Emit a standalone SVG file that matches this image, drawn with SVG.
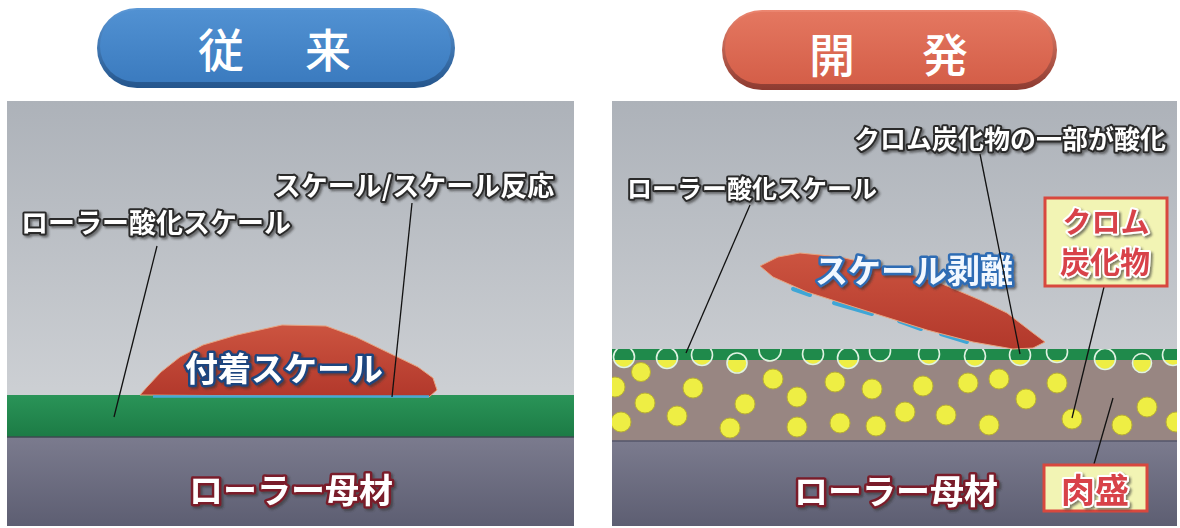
<svg xmlns="http://www.w3.org/2000/svg" width="1180" height="528" viewBox="0 0 1180 528">
  <defs>
    <linearGradient id="bgGrad" x1="0" y1="0" x2="0" y2="1">
      <stop offset="0" stop-color="#adb2b9"/>
      <stop offset="0.7" stop-color="#cdd0d4"/>
      <stop offset="1" stop-color="#d4d6d9"/>
    </linearGradient>
    <linearGradient id="baseGrad" x1="0" y1="0" x2="0" y2="1">
      <stop offset="0" stop-color="#7b7b8e"/>
      <stop offset="1" stop-color="#5d5e72"/>
    </linearGradient>
    <linearGradient id="greenGrad" x1="0" y1="0" x2="0" y2="1">
      <stop offset="0" stop-color="#2a9458"/>
      <stop offset="1" stop-color="#1c7b45"/>
    </linearGradient>
    <linearGradient id="scaleGrad" x1="0" y1="0" x2="0" y2="1">
      <stop offset="0" stop-color="#cc5440"/>
      <stop offset="1" stop-color="#b2382b"/>
    </linearGradient>
    <linearGradient id="blueRim" x1="0" y1="0" x2="0" y2="1">
      <stop offset="0" stop-color="#5c98d6"/>
      <stop offset="1" stop-color="#24558c"/>
    </linearGradient>
    <linearGradient id="blueFace" x1="0" y1="0" x2="0" y2="1">
      <stop offset="0" stop-color="#5191d2"/>
      <stop offset="1" stop-color="#3b7bbf"/>
    </linearGradient>
    <linearGradient id="redRim" x1="0" y1="0" x2="0" y2="1">
      <stop offset="0" stop-color="#ec8670"/>
      <stop offset="1" stop-color="#8c3a30"/>
    </linearGradient>
    <linearGradient id="redFace" x1="0" y1="0" x2="0" y2="1">
      <stop offset="0" stop-color="#e47760"/>
      <stop offset="1" stop-color="#d45e48"/>
    </linearGradient>
    <clipPath id="rightClip">
      <rect x="612" y="349" width="565" height="92"/>
    </clipPath>
    <filter id="sh" x="-10%" y="-30%" width="130%" height="170%">
      <feDropShadow dx="2" dy="2" stdDeviation="1" flood-color="#333" flood-opacity="0.6"/>
    </filter>
  </defs>
  <style>
    .lbl { font-family: "Noto Sans CJK JP", "Noto Sans CJK SC", sans-serif; font-weight: 700; fill: #fff; stroke: #2b2b2b; stroke-width: 4; paint-order: stroke; stroke-linejoin: round; dominant-baseline: central; text-anchor: middle; filter: url(#sh); }
    .base { stroke: #7a1e2a; stroke-width: 5; font-size: 34px; }
    .scale { stroke: #1f447e; stroke-width: 5; font-size: 33px; }
    .peel { fill: #f2f8ff; stroke: #2e6cb4; stroke-width: 5; font-size: 33px; }
    .red { fill: #d8424a; stroke: #fff; stroke-width: 4; }
    .title { font-family: "Noto Sans CJK JP", "Noto Sans CJK SC", sans-serif; font-weight: 500; font-size: 46px; fill: #fff; dominant-baseline: central; text-anchor: middle; }
    .lead { stroke: #111; stroke-width: 1.3; fill: none; }
    .tag { fill: #f2f4b4; stroke: #d8483e; stroke-width: 3; }
    .dot { fill: #eeee44; stroke: #b9b032; stroke-width: 1; }
    .ring { fill: none; stroke: #dff2e2; stroke-width: 1.6; }
    .dash { stroke: #3ea6d6; stroke-width: 4; stroke-linecap: round; }
  </style>

  <!-- Title buttons -->
  <g id="title-conventional">
    <rect x="97" y="8" width="358" height="80" rx="40" fill="url(#blueRim)"/>
    <rect x="100" y="10" width="351" height="72" rx="36" fill="url(#blueFace)"/>
    <text class="title"><tspan x="221" y="47">従</tspan><tspan x="328" y="47">来</tspan></text>
  </g>
  <g id="title-developed">
    <rect x="722" y="10" width="335" height="80" rx="40" fill="url(#redRim)"/>
    <rect x="725" y="12" width="328" height="72" rx="36" fill="url(#redFace)"/>
    <text class="title"><tspan x="832" y="52">開</tspan><tspan x="945" y="52">発</tspan></text>
  </g>

  <!-- Conventional roll cross-section -->
  <g id="panel-left">
    <rect x="7" y="101" width="567" height="425" fill="url(#bgGrad)"/>
    <rect x="7" y="395" width="567" height="42" fill="url(#greenGrad)"/>
    <rect x="7" y="437" width="567" height="89" fill="url(#baseGrad)"/>
    <line x1="7" y1="437" x2="574" y2="437" stroke="#3d4a50" stroke-width="1.5"/>
  </g>
  <g id="adhered-scale">
    <path d="M140,395 L147,387 L161,372 L180,357 L203,345 L237,335 L282,325 L326,326 L356,337 L387,352 L418,367 L433,378 L437,390 L429,397 Z" fill="url(#scaleGrad)" stroke="#e8a27e" stroke-width="1"/>
    <line x1="153" y1="396.5" x2="429" y2="396.5" stroke="#47a8d4" stroke-width="2.5"/>
    <text class="lbl scale" x="284" y="367">付着スケール</text>
  </g>

  <!-- Developed roll cross-section -->
  <g id="panel-right">
    <rect x="612" y="101" width="565" height="425" fill="url(#bgGrad)"/>
    <rect x="612" y="360" width="565" height="81" fill="#988682"/>
    <rect x="612" y="441" width="565" height="85" fill="url(#baseGrad)"/>
    <line x1="612" y1="441" x2="1177" y2="441" stroke="#55566a" stroke-width="1.5"/>
  </g>
  <g id="cladding-carbides" clip-path="url(#rightClip)">
    <!-- chromium carbide particles -->
    <g>
      <circle class="dot" cx="641" cy="372" r="9.5"/>
      <circle class="dot" cx="615" cy="387" r="10"/>
      <circle class="dot" cx="693" cy="388" r="10"/>
      <circle class="dot" cx="645" cy="403" r="10"/>
      <circle class="dot" cx="773" cy="379" r="10"/>
      <circle class="dot" cx="745" cy="404" r="10"/>
      <circle class="dot" cx="797" cy="397" r="10"/>
      <circle class="dot" cx="835" cy="382" r="10"/>
      <circle class="dot" cx="872" cy="389" r="10"/>
      <circle class="dot" cx="677" cy="416" r="10"/>
      <circle class="dot" cx="621" cy="422" r="10"/>
      <circle class="dot" cx="730" cy="428" r="10"/>
      <circle class="dot" cx="797" cy="427" r="10"/>
      <circle class="dot" cx="840" cy="423" r="10"/>
      <circle class="dot" cx="876" cy="426" r="10"/>
      <circle class="dot" cx="905" cy="412" r="10"/>
      <circle class="dot" cx="923" cy="386" r="10"/>
      <circle class="dot" cx="968" cy="383" r="10"/>
      <circle class="dot" cx="999" cy="379" r="10"/>
      <circle class="dot" cx="1057" cy="383" r="10"/>
      <circle class="dot" cx="1026" cy="399" r="10"/>
      <circle class="dot" cx="946" cy="415" r="10"/>
      <circle class="dot" cx="989" cy="425" r="10"/>
      <circle class="dot" cx="1072" cy="419" r="10"/>
      <circle class="dot" cx="1122" cy="425" r="10"/>
      <circle class="dot" cx="1147" cy="407" r="10"/>
      <circle class="dot" cx="1176" cy="422" r="10"/>
      <!-- particles cut by the oxide layer -->
      <circle class="dot" cx="624" cy="357" r="10.5"/>
      <circle class="dot" cx="667" cy="358" r="10.5"/>
      <circle class="dot" cx="702" cy="355" r="10.5"/>
      <circle class="dot" cx="737" cy="363" r="10"/>
      <circle class="dot" cx="770" cy="350" r="11"/>
      <circle class="dot" cx="813" cy="354" r="10.5"/>
      <circle class="dot" cx="848" cy="358" r="10.5"/>
      <circle class="dot" cx="880" cy="351" r="10.5"/>
      <circle class="dot" cx="929" cy="354" r="10.5"/>
      <circle class="dot" cx="975" cy="356" r="10.5"/>
      <circle class="dot" cx="1020" cy="355" r="10.5"/>
      <circle class="dot" cx="1057" cy="352" r="10.5"/>
      <circle class="dot" cx="1105" cy="359" r="10.5"/>
      <circle class="dot" cx="1142" cy="363" r="9.5"/>
      <circle class="dot" cx="1173" cy="355" r="10.5"/>
    </g>
    <!-- roll oxide scale layer -->
    <rect x="612" y="349" width="565" height="11" fill="#1f8a4b"/>
    <g>
      <circle class="ring" cx="624" cy="357" r="10.5"/>
      <circle class="ring" cx="667" cy="358" r="10.5"/>
      <circle class="ring" cx="702" cy="355" r="10.5"/>
      <circle class="ring" cx="737" cy="363" r="10"/>
      <circle class="ring" cx="770" cy="350" r="11"/>
      <circle class="ring" cx="813" cy="354" r="10.5"/>
      <circle class="ring" cx="848" cy="358" r="10.5"/>
      <circle class="ring" cx="880" cy="351" r="10.5"/>
      <circle class="ring" cx="929" cy="354" r="10.5"/>
      <circle class="ring" cx="975" cy="356" r="10.5"/>
      <circle class="ring" cx="1020" cy="355" r="10.5"/>
      <circle class="ring" cx="1057" cy="352" r="10.5"/>
      <circle class="ring" cx="1105" cy="359" r="10.5"/>
      <circle class="ring" cx="1142" cy="363" r="9.5"/>
      <circle class="ring" cx="1173" cy="355" r="10.5"/>
    </g>
  </g>
  <g id="peeled-scale">
    <line class="dash" x1="793" y1="289" x2="810" y2="295"/>
    <line class="dash" x1="834" y1="303" x2="872" y2="314"/>
    <line class="dash" x1="899" y1="321" x2="921" y2="329"/>
    <line class="dash" x1="941" y1="334" x2="967" y2="342"/>
    <path d="M760,266 L778,257 L800,253 L840,257 L880,266 L940,283 L980,300 L1007,313 L1033,333 L1045,342 L1033,348 L1013,349 L973,342 L927,330 L873,313 L807,292 L773,277 Z" fill="url(#scaleGrad)" stroke="#e8a27e" stroke-width="1"/>
    <text class="lbl peel" x="914" y="269">スケール剥離</text>
  </g>

  <!-- Leader lines -->
  <g id="connectors">
    <line class="lead" x1="157" y1="246" x2="114" y2="417"/>
    <line class="lead" x1="412" y1="203" x2="392" y2="397"/>
    <line class="lead" x1="750" y1="205" x2="686" y2="353"/>
    <line class="lead" x1="980" y1="154" x2="1020" y2="354"/>
    <line class="lead" x1="1104" y1="287" x2="1072" y2="418"/>
    <line class="lead" x1="1113" y1="398" x2="1094" y2="464"/>
  </g>

  <!-- Labels -->
  <g id="label-oxide-left">
    <text class="lbl" x="156" y="221" font-size="27">ローラー酸化スケール</text>
  </g>
  <g id="label-reaction">
    <text class="lbl" x="414" y="184" font-size="27">スケール/スケール反応</text>
  </g>
  <g id="label-base-left">
    <text class="lbl base" x="291" y="488">ローラー母材</text>
  </g>
  <g id="label-oxide-right">
    <text class="lbl" x="752" y="187" font-size="25">ローラー酸化スケール</text>
  </g>
  <g id="label-partial-oxidation">
    <text class="lbl" x="1010" y="137" font-size="26">クロム炭化物の一部が酸化</text>
  </g>
  <g id="label-carbide">
    <rect class="tag" x="1045" y="198" width="122" height="88"/>
    <text class="lbl red" x="1106" y="220" font-size="29">クロム</text>
    <text class="lbl red" x="1105" y="260" font-size="30">炭化物</text>
  </g>
  <g id="label-base-right">
    <text class="lbl base" x="896" y="489">ローラー母材</text>
  </g>
  <g id="label-cladding">
    <rect class="tag" x="1044" y="465" width="103" height="46"/>
    <text class="lbl red" x="1095" y="488" font-size="34">肉盛</text>
  </g>
</svg>
